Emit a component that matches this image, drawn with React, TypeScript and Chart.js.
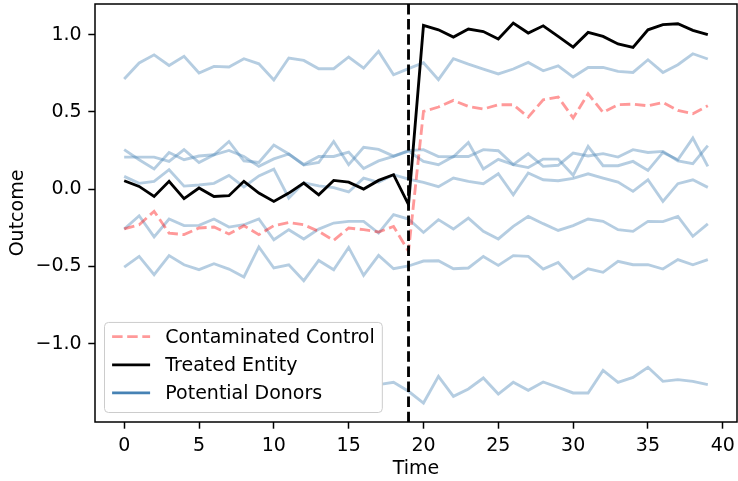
import React, { useEffect, useRef } from "react";
import { Chart, registerables } from "chart.js";

Chart.register(...registerables);

// ---------------- data ----------------
const TIME = [0, 1, 2, 3, 4, 5, 6, 7, 8, 9, 10, 11, 12, 13, 14, 15, 16, 17, 18, 19,
  20, 21, 22, 23, 24, 25, 26, 27, 28, 29, 30, 31, 32, 33, 34, 35, 36, 37, 38, 39];
const TREATMENT_TIME = 19;

const X_TICKS = [0, 5, 10, 15, 20, 25, 30, 35, 40];
const X_TICK_LABELS = ["0", "5", "10", "15", "20", "25", "30", "35", "40"];
const Y_TICKS = [-1.0, -0.5, 0.0, 0.5, 1.0];
const Y_TICK_LABELS = ["\u22121.0", "\u22120.5", "0.0", "0.5", "1.0"];

const TREATED = [0.055, 0.018, -0.047, 0.051, -0.061, 0.008, -0.047, -0.042, 0.051, -0.025,
  -0.079, -0.025, 0.040, -0.036, 0.057, 0.046, 0.001, 0.057, 0.094, -0.100,
  1.060, 1.032, 0.985, 1.037, 1.021, 0.972, 1.076, 1.011, 1.058, 0.989,
  0.920, 1.015, 0.989, 0.940, 0.918, 1.032, 1.065, 1.071, 1.028, 1.000];

const CONTAMINATED = [-0.256, -0.230, -0.143, -0.284, -0.294, -0.251, -0.245, -0.290, -0.236, -0.294,
  -0.236, -0.215, -0.230, -0.273, -0.331, -0.251, -0.262, -0.277, -0.241, -0.402,
  0.504, 0.532, 0.575, 0.536, 0.519, 0.547, 0.547, 0.467, 0.579, 0.597,
  0.461, 0.618, 0.497, 0.547, 0.551, 0.540, 0.562, 0.510, 0.489, 0.540];

const DONOR_A = [0.713, 0.817, 0.870, 0.801, 0.860, 0.752, 0.795, 0.791, 0.845, 0.812,
  0.707, 0.849, 0.834, 0.780, 0.780, 0.856, 0.784, 0.892, 0.741, 0.781,
  0.819, 0.709, 0.845, 0.810, 0.778, 0.746, 0.778, 0.821, 0.767, 0.799,
  0.726, 0.788, 0.788, 0.763, 0.756, 0.838, 0.756, 0.806, 0.877, 0.843];

const DONOR_B = [0.208, 0.208, 0.208, 0.180, 0.256, 0.173, 0.223, 0.309, 0.184, 0.173,
  0.286, 0.228, 0.156, 0.173, 0.309, 0.159, 0.271, 0.258, 0.214, 0.250,
  0.256, 0.212, 0.210, 0.302, 0.131, 0.193, 0.159, 0.230, 0.148, 0.155,
  0.234, 0.215, 0.230, 0.208, 0.256, 0.238, 0.245, 0.184, 0.165, 0.282];

const DONOR_C = [0.256, 0.191, 0.131, 0.238, 0.191, 0.215, 0.223, 0.251, 0.212, 0.148,
  0.196, 0.228, 0.160, 0.212, 0.212, 0.240, 0.134, 0.183, 0.213, 0.247,
  0.180, 0.159, 0.212, 0.212, 0.256, 0.249, 0.159, 0.140, 0.195, 0.195,
  0.090, 0.277, 0.152, 0.152, 0.180, 0.122, 0.238, 0.191, 0.331, 0.148];

const DONOR_D = [0.083, 0.038, 0.051, 0.126, 0.020, 0.027, 0.038, 0.089, 0.015, 0.086,
  0.130, -0.057, 0.042, 0.022, 0.010, -0.018, 0.072, 0.045, 0.094, 0.065,
  0.045, 0.016, 0.072, 0.051, 0.036, 0.100, -0.036, 0.105, 0.061, 0.055,
  0.070, 0.100, 0.072, 0.046, -0.014, 0.061, -0.079, 0.036, 0.061, 0.012];

const DONOR_E = [-0.258, -0.172, -0.309, -0.193, -0.236, -0.234, -0.193, -0.245, -0.230, -0.193,
  -0.327, -0.262, -0.322, -0.258, -0.219, -0.208, -0.208, -0.284, -0.165, -0.193,
  -0.280, -0.197, -0.258, -0.187, -0.273, -0.322, -0.241, -0.176, -0.223, -0.267,
  -0.236, -0.193, -0.208, -0.262, -0.273, -0.208, -0.210, -0.176, -0.305, -0.225];

const DONOR_F = [-0.504, -0.435, -0.553, -0.430, -0.489, -0.521, -0.482, -0.517, -0.568, -0.374,
  -0.510, -0.489, -0.592, -0.461, -0.521, -0.377, -0.558, -0.428, -0.515, -0.497,
  -0.465, -0.463, -0.515, -0.510, -0.435, -0.493, -0.430, -0.435, -0.517, -0.474,
  -0.579, -0.515, -0.538, -0.467, -0.489, -0.489, -0.517, -0.456, -0.489, -0.456];

const DONOR_G = [-1.270, -1.240, -1.300, -1.260, -1.220, -1.290, -1.310, -1.250, -1.280, -1.230,
  -1.300, -1.270, -1.240, -1.320, -1.260, -1.290, -1.250, -1.265, -1.250, -1.308,
  -1.384, -1.211, -1.341, -1.293, -1.222, -1.326, -1.250, -1.302, -1.248, -1.283,
  -1.319, -1.319, -1.173, -1.250, -1.218, -1.153, -1.244, -1.233, -1.244, -1.265];

const DONORS = [DONOR_A, DONOR_B, DONOR_C, DONOR_D, DONOR_E, DONOR_F, DONOR_G];

const LEGEND_LABELS = ["Contaminated Control", "Treated Entity", "Potential Donors"];

// ---------------- style ----------------
const FONT = '"DejaVu Sans", "Liberation Sans", sans-serif';
const FS = 19;
const LW = 2.85;
const DASH = [10.5, 4.6];
const DONOR_COLOR = "rgba(70,130,180,0.4)";
const DONOR_LEGEND_COLOR = "rgb(70,130,180)";
const CONTAM_COLOR = "rgba(255,0,0,0.4)";
const TREATED_COLOR = "#000000";

function toPoints(vals: number[]) {
  return TIME.map((t, i) => ({ x: t, y: vals[i] }));
}

const overlayPlugin = {
  id: "overlay",
  afterDraw(chart: any) {
    const { ctx, chartArea, scales } = chart;
    const { left, right, top, bottom } = chartArea;
    ctx.save();

    // vertical treatment line
    const xv = scales.x.getPixelForValue(TREATMENT_TIME);
    ctx.beginPath();
    ctx.setLineDash(DASH);
    ctx.lineWidth = LW;
    ctx.strokeStyle = "#000";
    ctx.moveTo(xv, top);
    ctx.lineTo(xv, bottom);
    ctx.stroke();
    ctx.setLineDash([]);

    // spines
    ctx.lineWidth = 1.5;
    ctx.strokeStyle = "#000";
    ctx.strokeRect(left, top, right - left, bottom - top);

    // legend
    ctx.font = `${FS}px ${FONT}`;
    const pad = 0.4 * FS;
    const handleLen = 2 * FS;
    const handlePad = 0.8 * FS;
    const textH = 0.98 * FS;
    const gap = 0.5 * FS;
    const maxW = Math.max(...LEGEND_LABELS.map((l) => ctx.measureText(l).width));
    const w = pad + handleLen + handlePad + maxW + pad;
    const h = 2 * pad + LEGEND_LABELS.length * textH + (LEGEND_LABELS.length - 1) * gap;
    const x0 = left + 0.5 * FS;
    const y1 = bottom - 0.5 * FS;
    const y0 = y1 - h;
    const r = 4;
    ctx.beginPath();
    ctx.moveTo(x0 + r, y0);
    ctx.lineTo(x0 + w - r, y0);
    ctx.quadraticCurveTo(x0 + w, y0, x0 + w, y0 + r);
    ctx.lineTo(x0 + w, y1 - r);
    ctx.quadraticCurveTo(x0 + w, y1, x0 + w - r, y1);
    ctx.lineTo(x0 + r, y1);
    ctx.quadraticCurveTo(x0, y1, x0, y1 - r);
    ctx.lineTo(x0, y0 + r);
    ctx.quadraticCurveTo(x0, y0, x0 + r, y0);
    ctx.closePath();
    ctx.fillStyle = "#ffffff";
    ctx.fill();
    ctx.lineWidth = 1;
    ctx.strokeStyle = "#cccccc";
    ctx.stroke();

    const styles = [
      { color: CONTAM_COLOR, dash: DASH },
      { color: TREATED_COLOR, dash: [] as number[] },
      { color: DONOR_LEGEND_COLOR, dash: [] as number[] },
    ];
    LEGEND_LABELS.forEach((label, i) => {
      const cy = y0 + pad + 0.35 * FS + i * (textH + gap);
      const hx = x0 + pad;
      ctx.beginPath();
      ctx.setLineDash(styles[i].dash);
      ctx.lineWidth = LW;
      ctx.strokeStyle = styles[i].color;
      ctx.moveTo(hx, cy);
      ctx.lineTo(hx + handleLen, cy);
      ctx.stroke();
      ctx.setLineDash([]);
      ctx.fillStyle = "#000";
      ctx.textBaseline = "middle";
      ctx.textAlign = "left";
      ctx.fillText(label, hx + handleLen + handlePad, cy + 1);
    });
    ctx.restore();
  },
};

export default function App() {
  const ref = useRef<HTMLCanvasElement | null>(null);

  useEffect(() => {
    document.body.style.margin = "0";
    const canvas = ref.current;
    if (!canvas) return;

    const allY = [TREATED, CONTAMINATED, ...DONORS].flat();
    const yMinD = Math.min(...allY);
    const yMaxD = Math.max(...allY);
    const yPad = (yMaxD - yMinD) * 0.05;
    const xPad = (TIME[TIME.length - 1] - TIME[0]) * 0.05;

    const lineBase = {
      pointRadius: 0,
      pointHoverRadius: 0,
      tension: 0,
      borderWidth: LW,
      fill: false,
      borderCapStyle: "butt" as const,
      borderJoinStyle: "miter" as const,
    };

    const datasets: any[] = [
      { ...lineBase, label: "Treated Entity", data: toPoints(TREATED), borderColor: TREATED_COLOR },
      { ...lineBase, label: "Contaminated Control", data: toPoints(CONTAMINATED), borderColor: CONTAM_COLOR, borderDash: DASH },
      ...DONORS.map((d, i) => ({
        ...lineBase,
        label: `Donor ${i + 1}`,
        data: toPoints(d),
        borderColor: DONOR_COLOR,
      })),
    ];

    const tickFont = { family: FONT, size: FS };

    const chart = new Chart(canvas, {
      type: "line",
      data: { datasets },
      options: {
        animation: false,
        responsive: false,
        devicePixelRatio: 1,
        layout: { padding: { top: 4, right: 1, bottom: 0, left: 0 } },
        plugins: { legend: { display: false }, tooltip: { enabled: false } },
        scales: {
          x: {
            type: "linear",
            min: TIME[0] - xPad,
            max: TIME[TIME.length - 1] + xPad,
            afterBuildTicks: (s: any) => {
              s.ticks = X_TICKS.map((v) => ({ value: v }));
            },
            afterFit: (s: any) => {
              s.height = 59;
              s.paddingLeft = 0;
              s.paddingRight = 0;
              s.paddingTop = 0;
              s.paddingBottom = 0;
            },
            ticks: {
              autoSkip: false,
              maxRotation: 0,
              color: "#000",
              font: tickFont,
              padding: 6,
              callback: (_v: any, i: number) => X_TICK_LABELS[i],
            },
            grid: {
              drawOnChartArea: false,
              drawTicks: true,
              tickLength: 6.7,
              tickWidth: 1.5,
              tickColor: "#000",
            },
            border: { display: false },
            title: {
              display: true,
              text: "Time",
              color: "#000",
              font: tickFont,
              padding: { top: 0, bottom: 1 },
            },
          },
          y: {
            type: "linear",
            min: yMinD - yPad,
            max: yMaxD + yPad,
            afterBuildTicks: (s: any) => {
              s.ticks = Y_TICKS.map((v) => ({ value: v }));
            },
            afterFit: (s: any) => {
              s.width = 95;
              s.paddingLeft = 0;
              s.paddingRight = 0;
              s.paddingTop = 0;
              s.paddingBottom = 0;
            },
            ticks: {
              color: "#000",
              font: tickFont,
              padding: 6.7,
              callback: (_v: any, i: number) => Y_TICK_LABELS[i],
            },
            grid: {
              drawOnChartArea: false,
              drawTicks: true,
              tickLength: 6.7,
              tickWidth: 1.5,
              tickColor: "#000",
            },
            border: { display: false },
            title: {
              display: true,
              text: "Outcome",
              color: "#000",
              font: tickFont,
              padding: { top: 7, bottom: 0 },
            },
          },
        },
      },
      plugins: [overlayPlugin],
    } as any);

    return () => chart.destroy();
  }, []);

  return (
    <div style={{ position: "absolute", left: 0, top: 0, width: 738, height: 481 }}>
      <canvas ref={ref} width={738} height={481} style={{ display: "block" }} />
    </div>
  );
}
